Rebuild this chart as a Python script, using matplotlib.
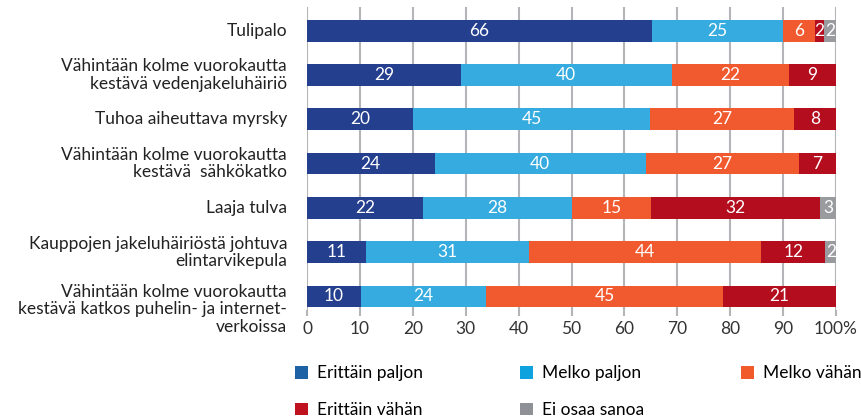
import matplotlib
matplotlib.use('Agg')
import matplotlib.pyplot as plt
import numpy as np
from matplotlib.patches import Patch
from matplotlib.transforms import ScaledTranslation

plt.rcParams['font.family'] = ['Lato', 'DejaVu Sans']

categories = [
    'Tulipalo',
    'Vähintään kolme vuorokautta\nkestävä vedenjakeluhäiriö',
    'Tuhoa aiheuttava myrsky',
    'Vähintään kolme vuorokautta\nkestävä  sähkökatko',
    'Laaja tulva',
    'Kauppojen jakeluhäiriöstä johtuva\nelintarvikepula',
    'Vähintään kolme vuorokautta\nkestävä katkos puhelin- ja internet-\nverkoissa',
]
series = ['Erittäin paljon', 'Melko paljon', 'Melko vähän', 'Erittäin vähän', 'Ei osaa sanoa']

# bar shares (%) as drawn
erittain_paljon = [65.2, 29.1, 20.0, 24.1, 22.0, 11.2, 10.2]
melko_paljon = [24.8, 39.8, 44.9, 39.9, 28.1, 30.8, 23.6]
melko_vahan = [6.0, 22.2, 27.1, 29.0, 14.9, 43.8, 44.9]
erittain_vahan = [1.7, 8.9, 8.0, 7.0, 32.0, 12.2, 21.3]
ei_osaa = [2.3, 0, 0, 0, 3.0, 2.0, 0]

# labels printed in the bars
lab_ep = [66, 29, 20, 24, 22, 11, 10]
lab_mp = [25, 40, 45, 40, 28, 31, 24]
lab_mv = [6, 22, 27, 27, 15, 44, 45]
lab_ev = [2, 9, 8, 7, 32, 12, 21]
lab_eo = [2, None, None, None, 3, 2, None]

bar_colors = ['#253f8f', '#35abdf', '#f15a2e', '#b30d1e', '#9a9b9e']
legend_colors = ['#1d62a5', '#0ea2de', '#f15a2b', '#c0111f', '#8e9296']

values = [erittain_paljon, melko_paljon, melko_vahan, erittain_vahan, ei_osaa]
labels = [lab_ep, lab_mp, lab_mv, lab_ev, lab_eo]

fig = plt.figure(figsize=(8.61, 4.2), dpi=100)
ax = fig.add_axes([0.3566, 0.262, 0.6144, 0.7213])

y = np.arange(len(categories))
left = np.zeros(len(categories))
for vals, labs, col in zip(values, labels, bar_colors):
    vals = np.array(vals)
    ax.barh(y, vals, left=left, height=0.49, color=col, zorder=2)
    for i, (v, lab) in enumerate(zip(vals, labs)):
        if lab is not None and v > 0:
            ax.text(left[i] + v / 2, y[i], str(lab), ha='center', va='center',
                    color='white', fontsize=12.5, zorder=3)
    left = left + vals

ax.set_xlim(0, 100)
ax.set_ylim(6.305, -0.537)
ax.set_xticks(np.arange(0, 101, 10))
ax.set_xticklabels([str(t) for t in range(0, 100, 10)] + ['100%'], fontsize=12.5, color='#333333')
ax.xaxis.grid(True, color='#b3b5b8', linewidth=1.5, zorder=0)
ax.tick_params(axis='x', length=4, width=1.5, color='#b3b5b8', pad=4)
ax.set_yticks([])
for s in ax.spines.values():
    s.set_visible(False)

# category labels
trans = ax.get_yaxis_transform()
for i, c in enumerate(categories):
    t = trans + ScaledTranslation(-0.2, 0, fig.dpi_scale_trans)
    if i == len(categories) - 1:
        t = t + ScaledTranslation(0, -0.13, fig.dpi_scale_trans)
    ax.text(0, y[i], c, transform=t, ha='right', va='center', fontsize=12.5,
            color='#222222', linespacing=1.1)

order = [0, 3, 1, 4, 2]
handles = [Patch(facecolor=legend_colors[k], label=series[k]) for k in order]
fig.legend(handles=handles, ncol=3, loc='upper left', bbox_to_anchor=(0.335, 0.147),
           frameon=False, fontsize=12.5, handlelength=0.75, handleheight=0.75,
           handletextpad=0.5, columnspacing=5.6, labelspacing=1.2, borderaxespad=0)

fig.savefig('out.png', dpi=100)
